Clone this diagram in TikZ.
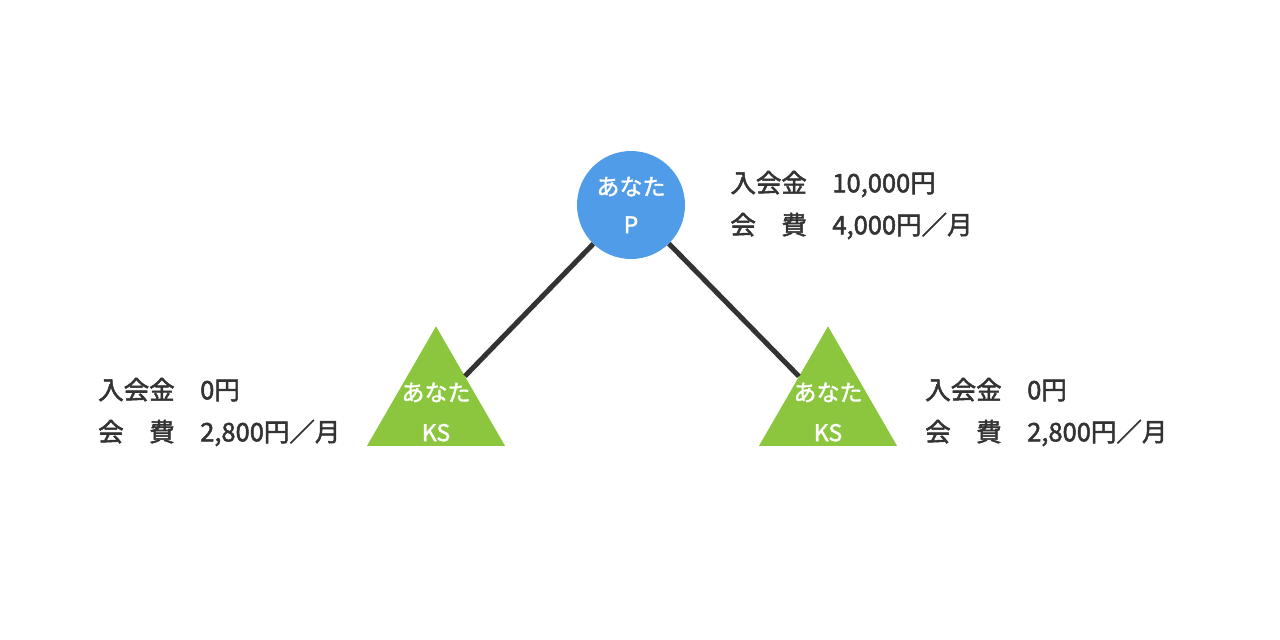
\documentclass[tikz,border=0pt]{standalone}
\usepackage{color}
\usepackage{fontspec}
\setmainfont{Noto Sans CJK JP}
\newfontfamily\mediumfont[FakeBold=1.6]{Noto Sans CJK JP}
\newfontfamily\labelfont[FakeBold=2]{Noto Sans CJK JP}
\usepackage{tikz}
\usetikzlibrary{shapes.geometric}
\usetikzlibrary{positioning}

\definecolor{pblue}{HTML}{519CE9}
\definecolor{ksgreen}{HTML}{8CC63F}
\definecolor{ink}{HTML}{333333}

\begin{document}
\begin{tikzpicture}[x=1pt,y=-1pt,
  pnode/.style={circle,fill=pblue,minimum size=108pt,inner sep=0pt,
    text=white,align=center,font=\mediumfont\fontsize{23}{38}\selectfont},
  ksnode/.style={regular polygon,regular polygon sides=3,fill=ksgreen,
    minimum size=159.3pt,inner sep=0pt},
  kstext/.style={text=white,align=center,
    font=\mediumfont\fontsize{23}{40}\selectfont},
  fee/.style={text=ink,align=left,inner sep=0pt,
    font=\labelfont\fontsize{25.5}{42}\selectfont},
  link/.style={draw=ink,line width=5pt}]
  \useasboundingbox (0,0) rectangle (1280,640);
  \node[pnode] (p) at (631,205) {あなた\\P};
  \node[ksnode] (ksL) at (436,406) {};
  \node[ksnode] (ksR) at (828,406) {};
  \node[kstext] (ksLtext) at (436,412) {あなた\\KS};
  \node[kstext] (ksRtext) at (828,412) {あなた\\KS};
  \node[fee,right=45pt of p] (feeP) {入会金　10,000円\\会　費　4,000円／月};
  \node[fee,anchor=west] (feeL) at (98,412) {入会金　0円\\会　費　2,800円／月};
  \node[fee,anchor=west] (feeR) at (925,412) {入会金　0円\\会　費　2,800円／月};
  \draw[link]
    (p)
    --
    (ksL);
  \draw[link]
    (p)
    --
    (ksR);
\end{tikzpicture}
\end{document}
